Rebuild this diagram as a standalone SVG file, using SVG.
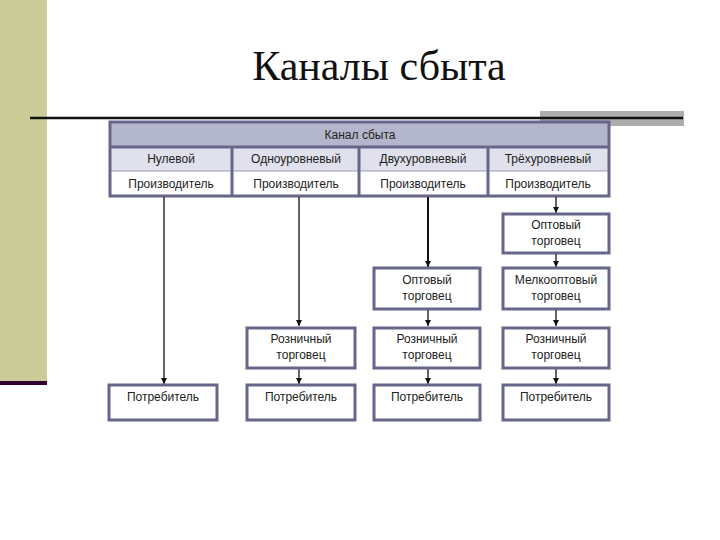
<svg xmlns="http://www.w3.org/2000/svg" width="720" height="540" viewBox="0 0 720 540">
<style>
.t{font-family:"Liberation Sans",Arial,sans-serif;font-size:12px;fill:#222;text-anchor:middle}
.box{fill:#fff;stroke:#66668a;stroke-width:3}
.ln{stroke:#111;stroke-width:1.3;fill:none}
.grid{stroke:#66668a;stroke-width:3;fill:none}
</style>
<defs>
<marker id="ah" viewBox="0 0 8 8" refX="8" refY="4" markerWidth="6" markerHeight="6" markerUnits="userSpaceOnUse" orient="auto">
<path d="M0,0 L8,4 L0,8 z" fill="#111"/>
</marker>
</defs>
<rect width="720" height="540" fill="#fff"/>
<g id="decor">
<rect x="0" y="0" width="47" height="381" fill="#cccc99"/>
<rect x="0" y="381" width="47" height="4" fill="#330033"/>
<rect x="540" y="111" width="144" height="15" fill="#acacac"/>
<line x1="30" y1="118" x2="683" y2="118" stroke="#111" stroke-width="2.5"/>
</g>
<text x="379" y="80" style="font-family:'Liberation Serif','Times New Roman',serif;font-size:42px;fill:#111;text-anchor:middle">Каналы сбыта</text>
<g id="table">
<rect x="110" y="122" width="499" height="25" fill="#b4b6cc"/>
<rect x="110" y="147" width="499" height="24" fill="#e0e1ec"/>
<rect x="110" y="171" width="499" height="25" fill="#fff"/>
<line x1="110" y1="171" x2="609" y2="171" stroke="#9a9ab2" stroke-width="1"/>
<line x1="110" y1="147" x2="609" y2="147" class="grid"/>
<line x1="232" y1="147" x2="232" y2="196" class="grid"/>
<line x1="359" y1="147" x2="359" y2="196" class="grid"/>
<line x1="488" y1="147" x2="488" y2="196" class="grid"/>
<rect x="110" y="122" width="499" height="74" class="grid"/>
<text class="t" x="360" y="139">Канал сбыта</text>
<text class="t" x="171" y="163">Нулевой</text>
<text class="t" x="296" y="163">Одноуровневый</text>
<text class="t" x="423" y="163">Двухуровневый</text>
<text class="t" x="548" y="163">Трёхуровневый</text>
<text class="t" x="171" y="188">Производитель</text>
<text class="t" x="296" y="188">Производитель</text>
<text class="t" x="423" y="188">Производитель</text>
<text class="t" x="548" y="188">Производитель</text>
</g>
<g id="connectors">
<line class="ln" x1="164" y1="197" x2="164" y2="384" marker-end="url(#ah)"/>
<line class="ln" x1="299" y1="197" x2="299" y2="326" marker-end="url(#ah)"/>
<line class="ln" x1="299" y1="369" x2="299" y2="384" marker-end="url(#ah)"/>
<line class="ln" x1="428" y1="197" x2="428" y2="267" marker-end="url(#ah)" style="stroke-width:2"/>
<line class="ln" x1="428" y1="310" x2="428" y2="326" marker-end="url(#ah)"/>
<line class="ln" x1="428" y1="369" x2="428" y2="384" marker-end="url(#ah)"/>
<line class="ln" x1="556" y1="197" x2="556" y2="213" marker-end="url(#ah)"/>
<line class="ln" x1="556" y1="254" x2="556" y2="267" marker-end="url(#ah)"/>
<line class="ln" x1="556" y1="310" x2="556" y2="326" marker-end="url(#ah)"/>
<line class="ln" x1="556" y1="369" x2="556" y2="384" marker-end="url(#ah)"/>
</g>
<g id="n-opt4"><rect class="box" x="503" y="214" width="106" height="39"/><text class="t" x="556" y="229">Оптовый</text><text class="t" x="556" y="245">торговец</text></g>
<g id="n-opt3"><rect class="box" x="374" y="268" width="106" height="41"/><text class="t" x="427" y="284">Оптовый</text><text class="t" x="427" y="300">торговец</text></g>
<g id="n-melk4"><rect class="box" x="503" y="268" width="106" height="41"/><text class="t" x="556" y="284">Мелкооптовый</text><text class="t" x="556" y="300">торговец</text></g>
<g id="n-roz2"><rect class="box" x="247" y="328" width="108" height="40"/><text class="t" x="301" y="343">Розничный</text><text class="t" x="301" y="359">торговец</text></g>
<g id="n-roz3"><rect class="box" x="374" y="328" width="106" height="40"/><text class="t" x="427" y="343">Розничный</text><text class="t" x="427" y="359">торговец</text></g>
<g id="n-roz4"><rect class="box" x="503" y="328" width="106" height="40"/><text class="t" x="556" y="343">Розничный</text><text class="t" x="556" y="359">торговец</text></g>
<g id="n-pot1"><rect class="box" x="109" y="385" width="108" height="35"/><text class="t" x="163" y="401">Потребитель</text></g>
<g id="n-pot2"><rect class="box" x="247" y="385" width="108" height="35"/><text class="t" x="301" y="401">Потребитель</text></g>
<g id="n-pot3"><rect class="box" x="374" y="385" width="106" height="35"/><text class="t" x="427" y="401">Потребитель</text></g>
<g id="n-pot4"><rect class="box" x="503" y="385" width="106" height="35"/><text class="t" x="556" y="401">Потребитель</text></g>
</svg>
